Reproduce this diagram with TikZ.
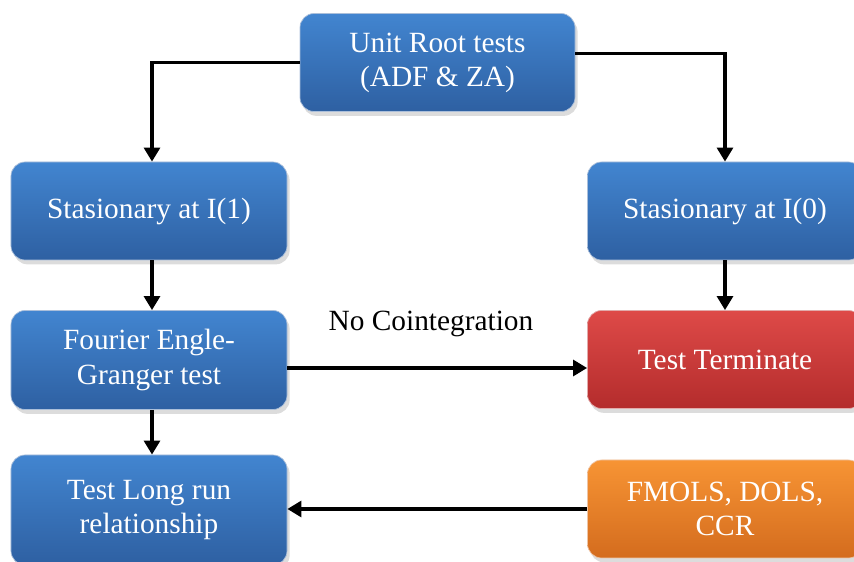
\documentclass[tikz,border=0pt]{standalone}
\usepackage{fontspec}
\setmainfont{Liberation Serif}
\usetikzlibrary{arrows.meta,calc,shadows}
\definecolor{bluetop}{RGB}{66,133,208}
\definecolor{bluebot}{RGB}{46,96,162}
\definecolor{redtop}{RGB}{222,74,72}
\definecolor{redbot}{RGB}{180,44,44}
\definecolor{orangetop}{RGB}{247,148,52}
\definecolor{orangebot}{RGB}{212,108,30}

\begin{document}
\begin{tikzpicture}[
  box/.style={rounded corners=8pt, minimum width=5.5cm, minimum height=1.96cm,
              align=center, text=white, font=\fontsize{16.7}{19.4}\selectfont,
              draw=white!60!bluebot, line width=0.4pt,
              drop shadow={opacity=0.28, shadow xshift=1.5pt, shadow yshift=-2.5pt}},
  bluebox/.style={box, top color=bluetop, bottom color=bluebot},
  redbox/.style={box, top color=redtop, bottom color=redbot, draw=white!60!redbot},
  orangebox/.style={box, top color=orangetop, bottom color=orangebot, draw=white!60!orangebot},
  flow/.style={line width=2.2pt, -{Triangle[width=9pt,length=8pt]}},
]
\useasboundingbox (0,0) rectangle (17.08,-11.24);

% ---------- boxes ----------
\node[bluebox] (unit) at (8.75,-1.25) {Unit Root tests\\(ADF \& ZA)};
\node[bluebox, minimum width=5.52cm] (st1) at (2.98,-4.22) {Stasionary at I(1)};
\node[bluebox] (st0) at (14.5,-4.22) {Stasionary at I(0)};
\node[bluebox, minimum width=5.52cm, minimum height=1.98cm] (four) at (2.98,-7.2) {Fourier Engle-\\Granger test};
\node[redbox] (term) at (14.5,-7.19) {Test Terminate};
\node[bluebox, minimum width=5.52cm, minimum height=2.2cm] (lrun) at (2.98,-10.2) {Test Long run\\relationship};
\node[orangebox] (fmols) at (14.5,-10.18) {FMOLS, DOLS,\\CCR};

% ---------- connectors ----------
\draw[flow] (unit.west) -| ([xshift=0.06cm]st1.north);
\draw[flow] ([yshift=0.18cm]unit.east) -| (st0.north);
\draw[flow] ([xshift=0.06cm]st1.south) -- ([xshift=0.06cm]four.north);
\draw[flow] (st0.south) -- (term.north);
\draw[flow] ([yshift=-0.16cm]four.east) -- ([yshift=-0.16cm]four.east -| term.west);
\draw[flow] ([xshift=0.06cm]four.south) -- ([xshift=0.06cm]lrun.north);
\draw[flow] (fmols.west) -- (fmols.west -| lrun.east);

\node[font=\fontsize{16.7}{19.4}\selectfont] (nocoint) at (8.62,-6.48) {No Cointegration};

\end{tikzpicture}
\end{document}
